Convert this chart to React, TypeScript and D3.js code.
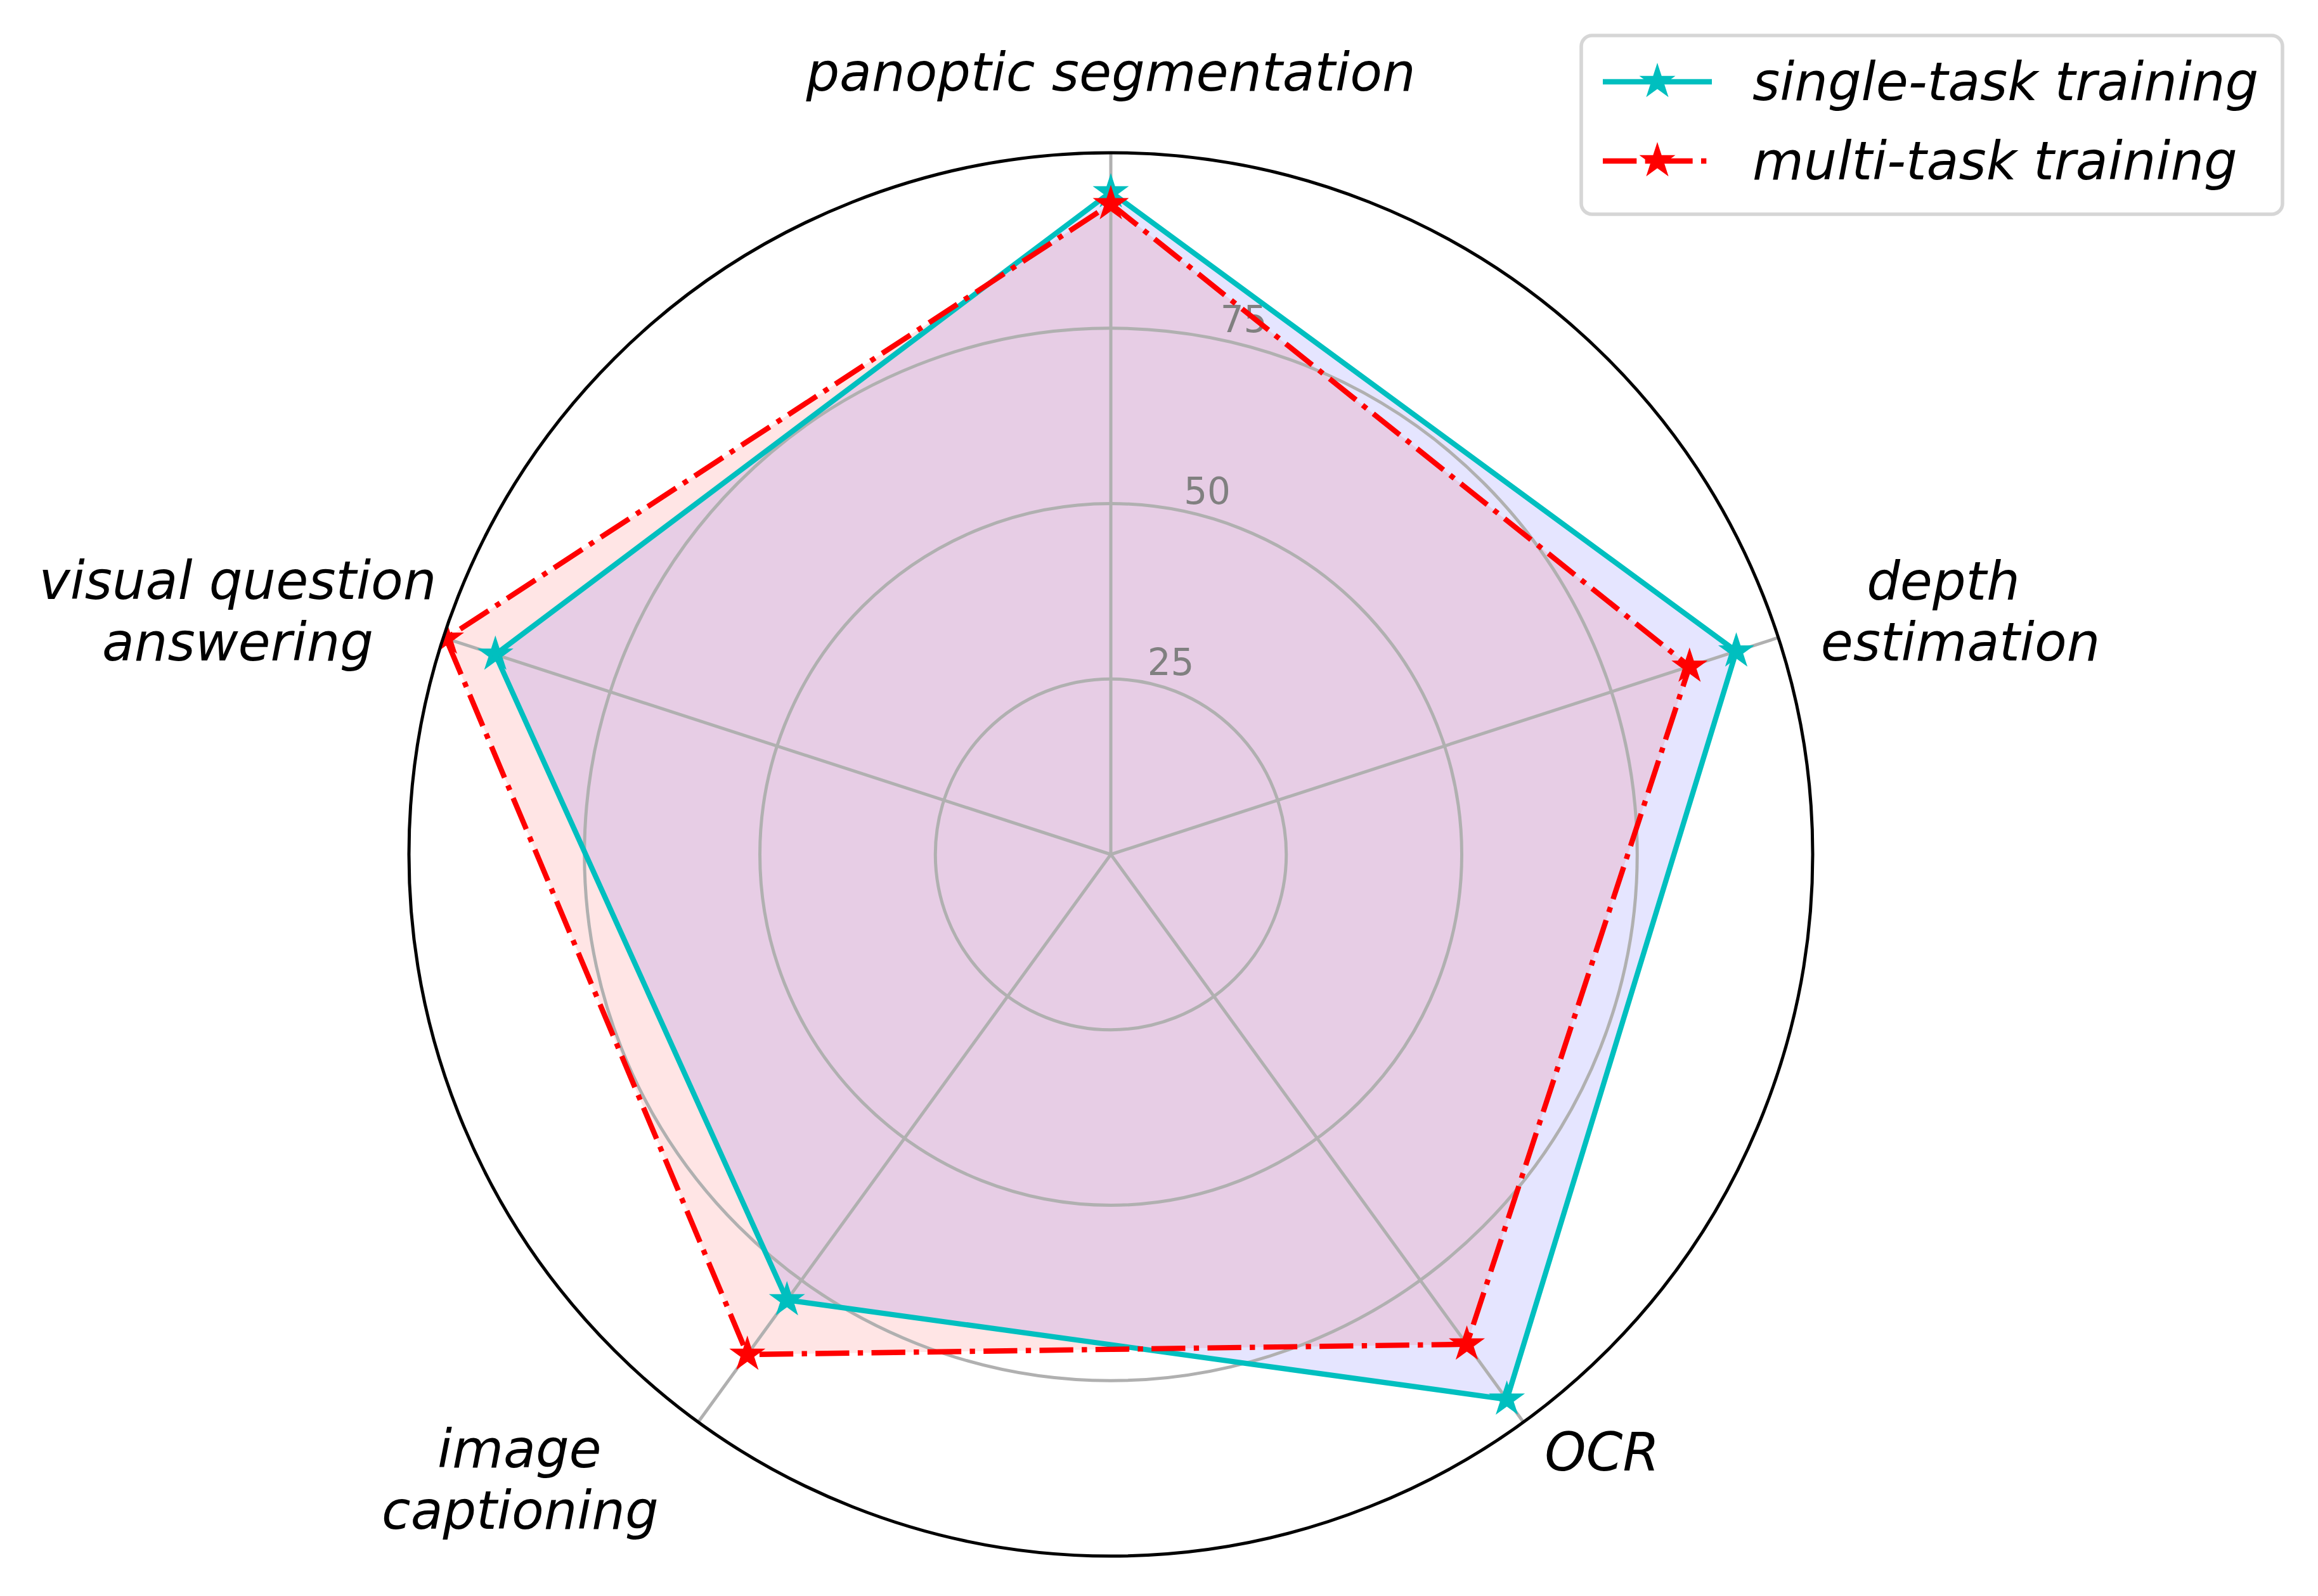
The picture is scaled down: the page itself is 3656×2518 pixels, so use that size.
import React from "react";
import * as d3 from "d3";

const categories = [
  "panoptic segmentation",
  "depth\nestimation",
  "OCR",
  "image\ncaptioning",
  "visual question\nanswering",
];
const seriesNames = ["single-task training", "multi-task training"];
const singleTask = [94.4, 93.7, 96.0, 78.5, 92.2];
const multiTask = [92.7, 86.7, 86.3, 88.1, 99.6];
const radialTicks = [25, 50, 75];

const W = 3656;
const H = 2518;
const CX = 1752;
const CY = 1348;
const R = 1107;
const PX = 400 / 72; // px per point

// layout offsets for each label line: [dx, dy] from polar anchor (baseline)
const labelLayout: number[][][] = [
  [[0, 21]],
  [[147, -23], [174, 73]],
  [[54, -20]],
  [[-212, -25], [-211, 72]],
  [[-211, -24], [-211, 73]],
];

const seriesStyles = [
  { color: "#00bfbf", fill: "#0000ff", dash: "none" },
  { color: "#ff0000", fill: "#ff0000", dash: `${9.6 * PX} ${2.4 * PX} ${1.5 * PX} ${2.4 * PX}` },
];

function starPath(r: number): string {
  const pts: string[] = [];
  for (let k = 0; k < 10; k++) {
    const a = (k * Math.PI) / 5;
    const rr = k % 2 === 0 ? r : r * 0.381966;
    pts.push(`${(rr * Math.sin(a)).toFixed(2)},${(-rr * Math.cos(a)).toFixed(2)}`);
  }
  return "M" + pts.join("L") + "Z";
}

export default function App() {
  const n = categories.length;
  const rScale = d3.scaleLinear().domain([0, 100]).range([0, R]);
  const angle = d3.scaleLinear().domain([0, n]).range([0, 2 * Math.PI]);
  const polar = (i: number, r: number): [number, number] => [
    CX + r * Math.sin(angle(i)),
    CY - r * Math.cos(angle(i)),
  ];
  const radial = d3
    .lineRadial<number>()
    .angle((_d, i) => angle(i))
    .radius((d) => rScale(d))
    .curve(d3.curveLinearClosed);

  const series = [singleTask, multiTask];
  const star = starPath(21);
  const labelR = 1226;
  const fontFam = "'DejaVu Sans', sans-serif";
  const rlabelAngle = (12 * Math.PI) / 180;

  return (
    <svg
      width={W}
      height={H}
      viewBox={`0 0 ${W} ${H}`}
      style={{ position: "absolute", left: 0, top: 0, background: "#fff" }}
    >
      <defs>
        <clipPath id="axclip">
          <circle cx={CX} cy={CY} r={R} />
        </clipPath>
      </defs>
      <rect x={0} y={0} width={W} height={H} fill="#fff" />

      {/* fills */}
      <g clipPath="url(#axclip)">
        {series.map((vals, s) => (
          <path
            key={"f" + s}
            d={radial(vals) || ""}
            transform={`translate(${CX},${CY})`}
            fill={seriesStyles[s].fill}
            fillOpacity={0.1}
            stroke="none"
          />
        ))}
      </g>

      {/* grid rings */}
      {radialTicks.map((t) => (
        <circle key={"g" + t} cx={CX} cy={CY} r={rScale(t)} fill="none" stroke="#b0b0b0" strokeWidth={0.9 * PX} />
      ))}
      {/* spokes */}
      {categories.map((_c, i) => {
        const [x, y] = polar(i, R);
        return <line key={"s" + i} x1={CX} y1={CY} x2={x} y2={y} stroke="#b0b0b0" strokeWidth={0.9 * PX} />;
      })}

      {/* radial tick labels */}
      {radialTicks.map((t) => {
        const r = rScale(t);
        const x = CX + r * Math.sin(rlabelAngle) + 37;
        const y = CY - r * Math.cos(rlabelAngle) - 33 + 21;
        return (
          <text key={"t" + t} x={x} y={y} textAnchor="middle" fontFamily={fontFam} fontSize={58} fill="#808080">
            {t}
          </text>
        );
      })}

      {/* lines + markers */}
      <g clipPath="url(#axclip)">
        {series.map((vals, s) => (
          <g key={"l" + s}>
            <path
              d={radial(vals) || ""}
              transform={`translate(${CX},${CY})`}
              fill="none"
              stroke={seriesStyles[s].color}
              strokeWidth={1.5 * PX}
              strokeDasharray={seriesStyles[s].dash}
              strokeLinejoin="round"
            />
            {vals.map((v, i) => {
              const [x, y] = polar(i, rScale(v));
              return (
                <path
                  key={"m" + i}
                  d={star}
                  transform={`translate(${x},${y})`}
                  fill={seriesStyles[s].color}
                  stroke={seriesStyles[s].color}
                  strokeWidth={1.0 * PX}
                  strokeLinejoin="miter"
                />
              );
            })}
          </g>
        ))}
      </g>

      {/* spine */}
      <circle cx={CX} cy={CY} r={R} fill="none" stroke="#000" strokeWidth={0.9 * PX} />

      {/* category labels */}
      {categories.map((c, i) => {
        const [ax, ay] = polar(i, labelR);
        const lines = c.split("\n");
        return (
          <g key={"c" + i}>
            {lines.map((ln, j) => (
              <text
                key={j}
                x={ax + labelLayout[i][j][0]}
                y={ay + labelLayout[i][j][1]}
                textAnchor="middle"
                fontFamily={fontFam}
                fontStyle="italic"
                fontSize={83}
                fill="#000"
              >
                {ln}
              </text>
            ))}
          </g>
        );
      })}

      {/* legend */}
      <g>
        <rect
          x={2494}
          y={56}
          width={1106}
          height={282}
          rx={17}
          ry={17}
          fill="#fff"
          fillOpacity={0.8}
          stroke="#cccccc"
          strokeOpacity={0.8}
          strokeWidth={1.0 * PX}
        />
        {seriesNames.map((name, s) => {
          const y = 129 + s * 125;
          return (
            <g key={"lg" + s}>
              <line
                x1={2528}
                y1={y}
                x2={2700}
                y2={y}
                stroke={seriesStyles[s].color}
                strokeWidth={1.5 * PX}
                strokeDasharray={seriesStyles[s].dash}
              />
              <path
                d={star}
                transform={`translate(${2614},${y})`}
                fill={seriesStyles[s].color}
                stroke={seriesStyles[s].color}
                strokeWidth={1.0 * PX}
                strokeLinejoin="miter"
              />
              <text x={2764} y={y + 29} fontFamily={fontFam} fontStyle="italic" fontSize={83} fill="#000">
                {name}
              </text>
            </g>
          );
        })}
      </g>
    </svg>
  );
}
